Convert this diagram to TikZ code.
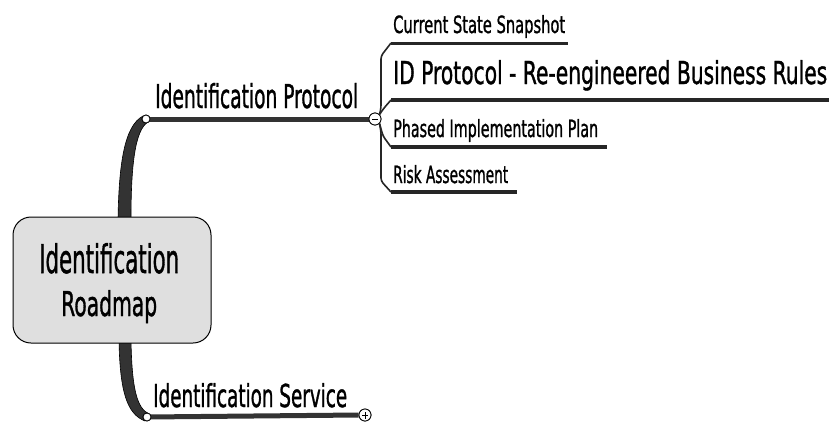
\documentclass[tikz,border=0pt]{standalone}
\usepackage{fontspec}
\setmainfont{DejaVu Sans Condensed}[FakeBold=1.3]
\usepackage{graphicx}
\newcommand\fitt[3]{\resizebox{#1pt}{#2pt}{#3}}
\tikzset{
  txt/.style={anchor=base west, inner sep=0pt, text=black},
  mainline/.style={line width=5pt, draw=black!80},
  subline/.style={line width=3.5pt, draw=black!85},
  conn/.style={line width=1.6pt, draw=black!85, rounded corners=3pt},
  stem/.style={fill=black!80, draw=black, line width=0.6pt},
  knob/.style={circle, draw=black, fill=white, line width=0.8pt, inner sep=0pt, minimum size=8pt},
  toggle/.style={circle, draw=black, fill=white, line width=0.8pt, inner sep=0pt, minimum size=12pt},
  rootbox/.style={draw=black, line width=1pt, fill=gray!25, rounded corners=18pt, minimum width=198pt, minimum height=126pt, inner sep=0pt}
}
\begin{document}
\begin{tikzpicture}[x=1pt,y=-1pt]
\useasboundingbox (0,0) rectangle (829,426);
\fill[white] (0,0) rectangle (829,426);

% stems
\fill[stem] (118,219) .. controls (119,165) and (124,126) .. (143,116)
  -- (148,122) .. controls (135,130) and (131,165) .. (131,219) -- cycle;
\fill[stem] (119,341) .. controls (120,392) and (127,414) .. (145,421)
  -- (149,414) .. controls (137,408) and (132,390) .. (131,341) -- cycle;

% root
\node[rootbox] (root) at (112,280) {};
\node[txt] (rt1) at (39,273) {\fitt{140}{30}{Identification}};
\node[txt] (rt2) at (61,316) {\fitt{96}{26}{Roadmap}};

% main branch nodes
\node[knob] (pa) at (146,119) {};
\node[toggle] (pm) at (375,119) {};
\node[knob] (sa) at (147,417) {};
\node[toggle] (sp) at (365,415) {};

\draw[mainline] (pa.center) -- (pm.west);
\draw[mainline] (sa.center) -- (sp.west);
\node[knob] at (pa) {};
\node[knob] at (sa) {};
\node[toggle] at (pm) {};
\node[toggle] at (sp) {};
\draw[line width=1pt] ([xshift=-3pt]pm.center) -- ([xshift=3pt]pm.center);
\draw[line width=1pt] ([xshift=-3pt]sp.center) -- ([xshift=3pt]sp.center)
  ([yshift=-3.5pt]sp.center) -- ([yshift=3.5pt]sp.center);

\node[txt] (proto) at (155,108) {\fitt{203}{25}{Identification Protocol}};
\node[txt] (serv) at (153,407) {\fitt{194}{24}{Identification Service}};

% children
\node[txt] (c1) at (393,33) {\fitt{172}{18}{Current State Snapshot}};
\node[txt] (c2) at (393,84) {\fitt{434}{24}{ID Protocol - Re-engineered Business Rules}};
\node[txt] (c3) at (393,137) {\fitt{205}{18}{Phased Implementation Plan}};
\node[txt] (c4) at (393,183) {\fitt{115}{18}{Risk Assessment}};

\coordinate (u1a) at (391,43);  \coordinate (u1b) at (568,43);
\coordinate (u2a) at (391,100); \coordinate (u2b) at (829,100);
\coordinate (u3a) at (391,147); \coordinate (u3b) at (607,147);
\coordinate (u4a) at (391,192); \coordinate (u4b) at (517,192);

\draw[conn] (pm.north east) -- (381,108) -- (381,56) -- (u1a);
\draw[conn] (pm.north east) -- (384,108) -- (u2a);
\draw[conn] (pm.south east) -- (383,136) -- (u3a);
\draw[conn] (pm.south east) -- (381,132) -- (381,181) -- (u4a);

\draw[subline, line width=3pt] (u1a) -- (u1b);
\draw[subline, line width=4pt] (u2a) -- (u2b);
\draw[subline] (u3a) -- (u3b);
\draw[subline] (u4a) -- (u4b);
\end{tikzpicture}
\end{document}
